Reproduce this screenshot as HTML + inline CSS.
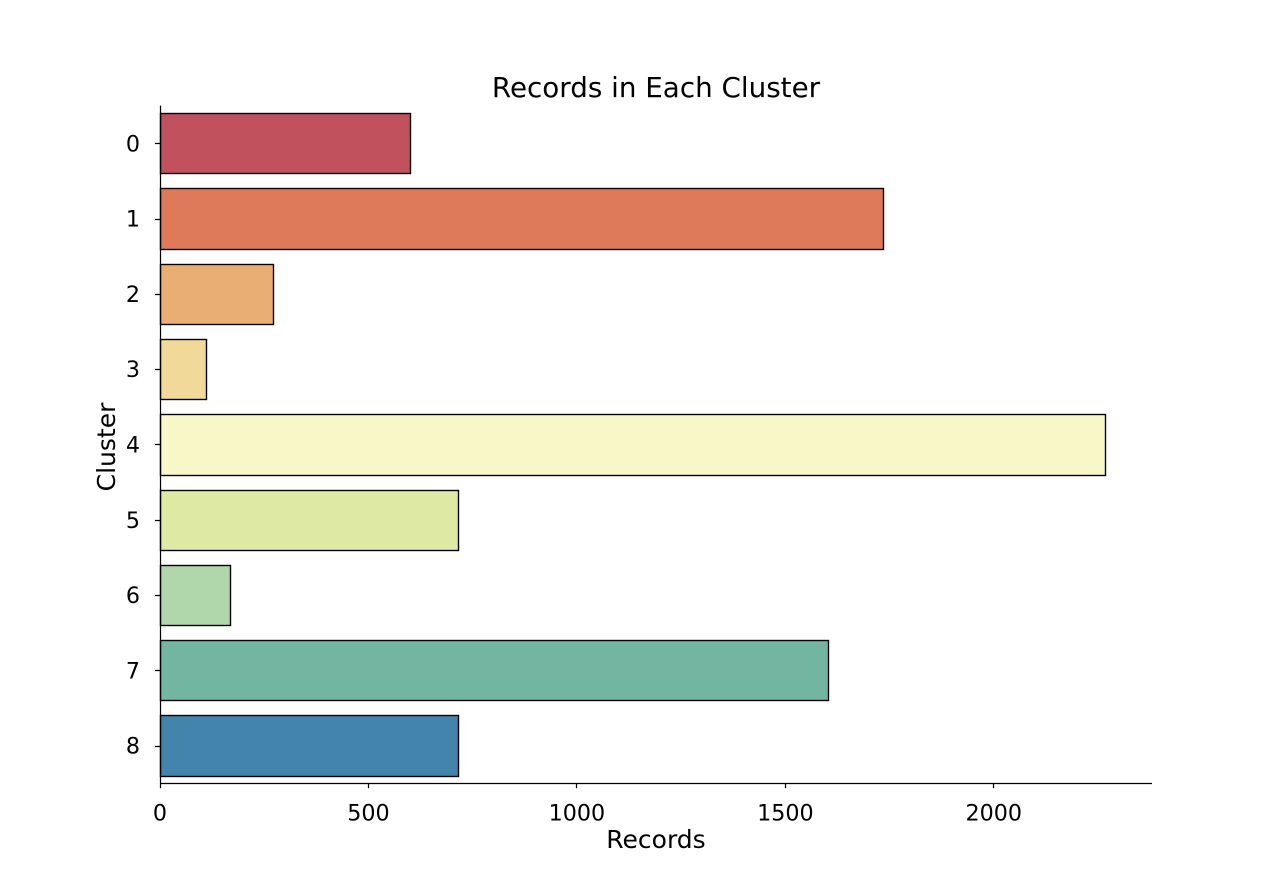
<!DOCTYPE html>
<html lang="en">
<head>
<meta charset="utf-8">
<title>Records in Each Cluster</title>
<style>
html,body{margin:0;padding:0;background:#fff;}
svg{display:block;}
text{font-family:"DejaVu Sans","Liberation Sans",sans-serif;fill:#000;}
</style>
</head>
<body>
<svg id="chart" xmlns="http://www.w3.org/2000/svg" width="1280" height="880" viewBox="0 0 1280 880">
  <rect x="0" y="0" width="1280" height="880" fill="#ffffff"></rect>
  <g id="bars"></g>
  <g id="x-axis"></g>
  <g id="y-axis"></g>
  <text x="656" y="97" font-size="27.78px" text-anchor="middle">Records in Each Cluster</text>
  <text x="656" y="848" font-size="25px" text-anchor="middle">Records</text>
  <text x="115" y="447" font-size="25px" text-anchor="middle" transform="rotate(-90 115 447)">Cluster</text>
</svg>
<script>
var categories = ["0", "1", "2", "3", "4", "5", "6", "7", "8"];
var records = [600, 1736, 272, 112, 2267, 716, 169, 1604, 716];
var barColors = ["#c2515e", "#de795a", "#e9ae74", "#f0d999", "#f7f7c7", "#dee9a4", "#b0d6ab", "#72b6a1", "#4384ac"];
var xTicks = [0, 500, 1000, 1500, 2000];

var NS = "http://www.w3.org/2000/svg";
var plotLeft = 160, plotRight = 1152, plotTop = 105.6, plotBottom = 783.2;
var pxPerRecord = 0.4169;
var barLineWidth = 1.39;
var axisLineWidth = 1.25;
var barFraction = 0.801;
var rowOffset = 0.5;

function snap(v) { return Math.round(v - 0.5) + 0.5; }
function xScale(v) { return plotLeft + v * pxPerRecord; }
function bandHeight() { return (plotBottom - plotTop) / categories.length; }
function yScale(i) { return plotTop + (i + 0.5) * bandHeight() + rowOffset; }

function make(tag, attrs, parent, content) {
  var el = document.createElementNS(NS, tag);
  for (var k in attrs) { el.setAttribute(k, attrs[k]); }
  if (content !== undefined) { el.textContent = content; }
  parent.appendChild(el);
  return el;
}

var barsG = document.getElementById("bars");
var xG = document.getElementById("x-axis");
var yG = document.getElementById("y-axis");

categories.forEach(function (c, i) {
  var h = bandHeight() * barFraction;
  var top = snap(yScale(i) - h / 2);
  var bottom = snap(yScale(i) + h / 2);
  var left = snap(xScale(0));
  var right = snap(xScale(records[i]));
  var bar = make("rect", {
    x: left,
    y: top,
    width: right - left,
    height: bottom - top,
    fill: barColors[i],
    stroke: "#000000",
    "stroke-width": barLineWidth
  }, barsG);
  
  

  var tick = make("line", {
    x1: plotLeft - 5, x2: snap(plotLeft),
    y1: snap(yScale(i)), y2: snap(yScale(i)),
    stroke: "#000000",
    "stroke-width": axisLineWidth
  }, yG);
  
  

  var label = make("text", {
    x: 140,
    y: yScale(i) + 7.6,
    "font-size": "22.22px",
    "text-anchor": "end"
  }, yG, c);
  
  
});

xTicks.forEach(function (t) {
  var tick = make("line", {
    x1: snap(xScale(t)), x2: snap(xScale(t)),
    y1: snap(plotBottom), y2: plotBottom + 5,
    stroke: "#000000",
    "stroke-width": axisLineWidth
  }, xG);
  
  

  var label = make("text", {
    x: xScale(t),
    y: 820.5,
    "font-size": "22.22px",
    "text-anchor": "middle"
  }, xG, String(t));
  
  
});

var xSpine = make("line", {
  x1: snap(plotLeft), x2: plotRight,
  y1: snap(plotBottom), y2: snap(plotBottom),
  stroke: "#000000",
  "stroke-width": axisLineWidth
}, xG);



var ySpine = make("line", {
  x1: snap(plotLeft), x2: snap(plotLeft),
  y1: plotTop, y2: snap(plotBottom),
  stroke: "#000000",
  "stroke-width": axisLineWidth
}, yG);


</script>
</body>
</html>
